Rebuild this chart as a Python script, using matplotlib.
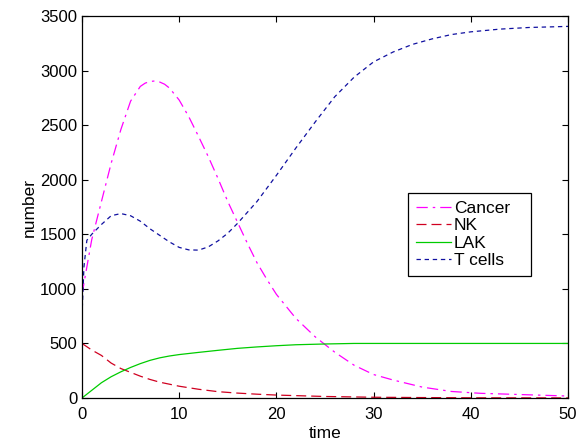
import numpy as np
import matplotlib
matplotlib.use("Agg")
import matplotlib.pyplot as plt

plt.rcParams['font.family'] = ['Liberation Sans', 'DejaVu Sans']

# values
t_cancer = [0, 0.5, 1, 2, 3, 4, 5, 6, 6.5, 7, 7.5, 8, 8.5, 9, 10, 11, 12, 13, 14, 15,
            16, 17, 18, 19, 20, 22, 24, 26, 28, 30, 32, 35, 38, 41, 45, 50]
cancer = [950, 1200, 1450, 1800, 2150, 2460, 2720, 2855, 2885, 2900, 2905, 2895,
          2875, 2840, 2730, 2575, 2395, 2210, 2010, 1800, 1610, 1420, 1240, 1090,
          950, 730, 560, 420, 300, 215, 165, 100, 60, 43, 32, 18]

t_nk = [0, 1, 2, 3, 4, 5, 6, 7, 8, 10, 12, 14, 16, 18, 20, 25, 30, 35, 40, 50]
nk = [500, 440, 390, 320, 270, 235, 200, 170, 145, 108, 80, 58, 45, 35, 27, 14, 7, 4, 2, 1]

t_lak = [0, 1, 2, 3, 4, 5, 6, 7, 8, 9, 10, 12, 14, 16, 18, 20, 22, 25, 28, 35, 50]
lak = [0, 70, 140, 195, 240, 280, 315, 345, 368, 385, 398, 418, 437, 455, 468, 479,
       488, 495, 500, 500, 500]

t_tcells = [0, 0.2, 0.5, 1, 2, 3, 4, 5, 6, 7, 8, 9, 10, 11, 12, 13, 14, 15, 16, 17,
            18, 19, 20, 22, 24, 26, 28, 30, 32, 34, 36, 38, 40, 43, 46, 50]
tcells = [750, 1200, 1445, 1500, 1590, 1670, 1690, 1670, 1620, 1550, 1490, 1430,
          1380, 1357, 1355, 1385, 1440, 1510, 1600, 1700, 1800, 1920, 2040, 2290,
          2530, 2760, 2940, 3080, 3170, 3240, 3290, 3330, 3355, 3380, 3395, 3405]

labels = ['Cancer', 'NK', 'LAK', 'T cells']

fig = plt.figure(figsize=(5.79, 4.45), dpi=100)
ax = fig.add_axes([0.1416, 0.1056, 0.8394, 0.8584])

ax.plot(t_cancer, cancer, color='#ff00ff', lw=0.9, dashes=(9, 4, 2, 4), label=labels[0])
ax.plot(t_nk, nk, color='#d00020', lw=0.9, dashes=(8, 4), label=labels[1])
ax.plot(t_lak, lak, color='#00cc00', lw=0.9, label=labels[2])
ax.plot(t_tcells, tcells, color='#1010a0', lw=0.9, dashes=(3.5, 3), label=labels[3])

ax.set_xlim(0, 50)
ax.set_ylim(0, 3500)
ax.set_xticks(np.arange(0, 51, 10))
ax.set_yticks(np.arange(0, 3501, 500))
ax.tick_params(direction='in', top=True, right=True, length=4, labelsize=12)
ax.tick_params(axis='x', pad=6.5)
ax.tick_params(axis='y', pad=3.5)
for s in ax.spines.values():
    s.set_linewidth(0.9)
ax.set_xlabel('time', fontsize=12.5, labelpad=3)
ax.set_ylabel('number', fontsize=12.5, labelpad=2)

leg = ax.legend(loc='upper left', bbox_to_anchor=(0.671, 0.537, 0.253, 0.0),
                mode='expand', fontsize=12.5, handlelength=2.0, handletextpad=0.2,
                labelspacing=0.13, borderpad=0.45, borderaxespad=0, fancybox=False,
                framealpha=1)
leg.get_frame().set_edgecolor('black')
leg.get_frame().set_linewidth(0.9)

fig.savefig('out.png', dpi=100)
